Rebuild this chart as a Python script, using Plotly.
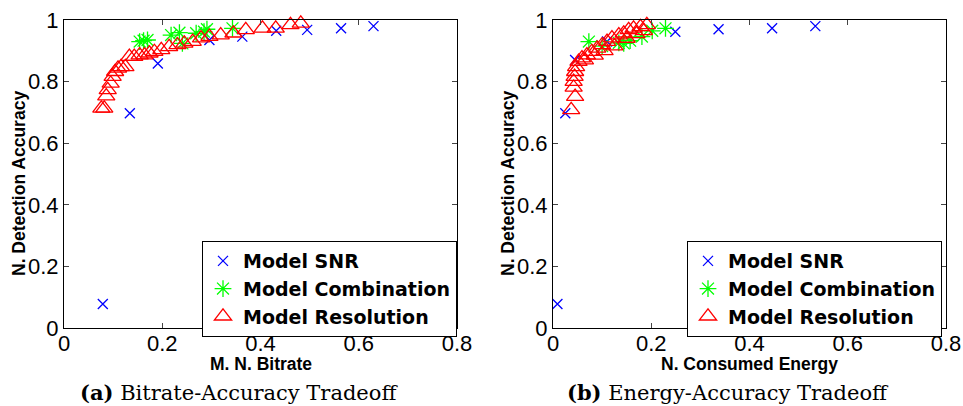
import plotly.graph_objects as go

# (a) bitrate vs accuracy
snr_bitrate = [0.079, 0.134, 0.191, 0.296, 0.363, 0.432, 0.495, 0.564, 0.630]
snr_acc_a = [0.078, 0.697, 0.859, 0.935, 0.946, 0.965, 0.968, 0.973, 0.980]
comb_bitrate = [0.154, 0.162, 0.170, 0.218, 0.235, 0.241, 0.269, 0.285, 0.291, 0.343]
comb_acc_a = [0.930, 0.933, 0.935, 0.951, 0.959, 0.924, 0.957, 0.962, 0.970, 0.973]
res_bitrate = [0.076, 0.082, 0.086, 0.089, 0.095, 0.099, 0.104, 0.110, 0.116, 0.125,
               0.133, 0.143, 0.154, 0.164, 0.174, 0.184, 0.198, 0.214, 0.231, 0.245,
               0.262, 0.279, 0.296, 0.319, 0.345, 0.370, 0.404, 0.431, 0.461, 0.482]
res_acc_a = [0.713, 0.713, 0.753, 0.773, 0.794, 0.816, 0.832, 0.843, 0.848, 0.848,
             0.881, 0.881, 0.886, 0.886, 0.892, 0.897, 0.903, 0.913, 0.919, 0.924,
             0.930, 0.941, 0.946, 0.951, 0.957, 0.968, 0.973, 0.973, 0.984, 0.989]

# (b) energy vs accuracy
snr_energy = [0.009, 0.025, 0.045, 0.110, 0.249, 0.337, 0.446, 0.534]
snr_acc_b = [0.078, 0.697, 0.870, 0.930, 0.962, 0.970, 0.973, 0.980]
comb_energy = [0.073, 0.100, 0.134, 0.144, 0.157, 0.181, 0.202, 0.229]
comb_acc_b = [0.930, 0.915, 0.926, 0.924, 0.933, 0.946, 0.965, 0.973]
res_energy = [0.037, 0.045, 0.042, 0.042, 0.044, 0.045, 0.047, 0.052, 0.059, 0.069,
              0.079, 0.090, 0.100, 0.110, 0.120, 0.134, 0.144, 0.154, 0.164, 0.178,
              0.191, 0.065, 0.085, 0.105, 0.125, 0.150, 0.170, 0.185]
res_acc_b = [0.708, 0.751, 0.781, 0.800, 0.816, 0.832, 0.848, 0.865, 0.876, 0.886,
             0.897, 0.908, 0.919, 0.930, 0.941, 0.951, 0.957, 0.968, 0.973, 0.978,
             0.984, 0.870, 0.885, 0.900, 0.915, 0.940, 0.955, 0.965]

names = ["Model SNR", "Model Combination", "Model Resolution"]
captions = ["<b>(a)</b> Bitrate-Accuracy Tradeoff", "<b>(b)</b> Energy-Accuracy Tradeoff"]
xtitles = ["M. N. Bitrate", "N. Consumed Energy"]

W, H = 963, 406
FONT = "Arial, 'Liberation Sans', sans-serif"
SERIF = "'DejaVu Serif', 'Liberation Serif', serif"

styles = [
    dict(symbol="x-thin-open", size=10, color="#0000ff", line=dict(color="#0000ff", width=1.3)),
    dict(symbol="asterisk-open", size=14, color="#00ff00", line=dict(color="#00ff00", width=1.3)),
    dict(symbol="triangle-up-open", size=15, color="#ff0000", line=dict(color="#ff0000", width=1.3)),
]

fig = go.Figure()
panels = [
    ([snr_bitrate, comb_bitrate, res_bitrate], [snr_acc_a, comb_acc_a, res_acc_a], "x", "y", "legend"),
    ([snr_energy, comb_energy, res_energy], [snr_acc_b, comb_acc_b, res_acc_b], "x2", "y2", "legend2"),
]
for xs, ys, xa, ya, lg in panels:
    for i in range(3):
        fig.add_trace(go.Scatter(x=xs[i], y=ys[i], mode="markers", name=names[i],
                                 marker=styles[i], xaxis=xa, yaxis=ya, legend=lg,
                                 cliponaxis=False))

# axis placement in pixels
left_px = [(64, 457), (553, 946)]
top_px, bot_px = 20, 328
ydom = [1 - bot_px / H, 1 - top_px / H]

axis_common = dict(showline=True, linecolor="black", linewidth=1, mirror="ticks",
                   ticks="inside", ticklen=5, tickcolor="#444", showgrid=False, zeroline=False,
                   automargin=False,
                   tickfont=dict(family=FONT, size=22, color="black"))

layout = dict(width=W, height=H, margin=dict(l=0, r=0, t=0, b=0),
              plot_bgcolor="white", paper_bgcolor="white", showlegend=True)
legend_right = [457, 942]
for k, (a, b) in enumerate(left_px):
    sfx = "" if k == 0 else "2"
    layout["xaxis" + sfx] = dict(domain=[a / W, b / W], range=[0, 0.8], dtick=0.2,
                                 anchor="y" + sfx, ticklabelstandoff=-4, **axis_common)
    layout["yaxis" + sfx] = dict(domain=ydom, range=[0, 1], dtick=0.2,
                                 anchor="x" + sfx, **axis_common)
    layout["legend" + sfx] = dict(x=legend_right[k] / W, xanchor="right", y=1 - 241 / H, yanchor="top",
                                  bgcolor="white", bordercolor="black", borderwidth=1,
                                  font=dict(family="'DejaVu Sans', sans-serif", size=19,
                                            color="black", weight="bold"),
                                  tracegroupgap=0, itemwidth=30)
fig.update_layout(**layout)

ann = []
for k, (a, b) in enumerate(left_px):
    ann.append(dict(text=xtitles[k], x=(a + b) / 2 / W, y=1 - 364 / H, xref="paper", yref="paper",
                    xanchor="center", yanchor="middle", showarrow=False,
                    font=dict(family=FONT, size=17.5, color="black", weight="bold")))
    ann.append(dict(text="N. Detection Accuracy", x=(a - 45) / W, y=1 - 184 / H, xref="paper",
                    yref="paper", xanchor="center", yanchor="middle", textangle=-90,
                    showarrow=False,
                    font=dict(family=FONT, size=17.5, color="black", weight="bold")))
    ann.append(dict(text=captions[k], x=(a + b) / 2 / W - 22 / W, y=1 - 392 / H, xref="paper",
                    yref="paper", xanchor="center", yanchor="middle", showarrow=False,
                    font=dict(family=SERIF, size=21, color="black")))
fig.update_layout(annotations=ann)

# drop the default 8px body margin so the figure sits at the window origin
fig.write_html("out.html", config={"displayModeBar": False},
               post_script="document.body.style.margin='0';")
